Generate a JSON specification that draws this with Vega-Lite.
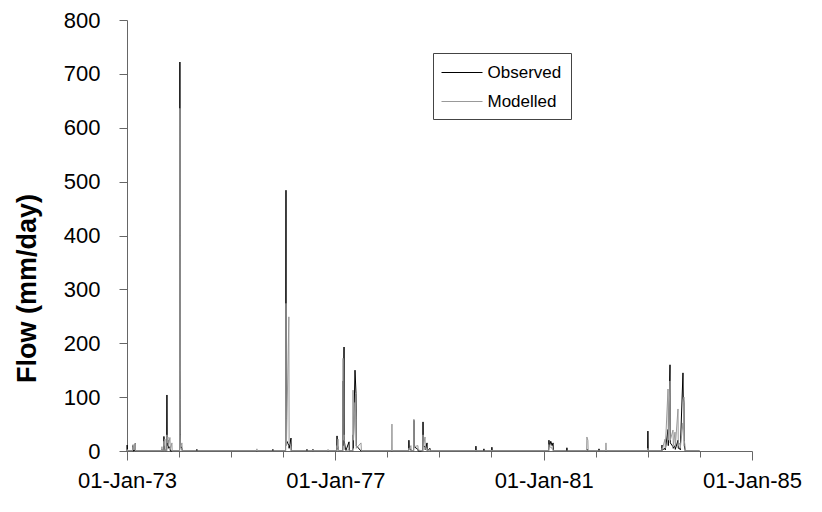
{
 "$schema": "https://vega.github.io/schema/vega-lite/v6.json",
 "width": 625, "height": 431,
 "autosize": {"type": "none"},
 "padding": {"left": 127, "top": 20, "right": 70, "bottom": 61},
 "background": "white",
 "config": {"font": "Liberation Sans", "view": {"stroke": null}, "axis": {"grid": false, "domainColor": "#666", "tickColor": "#666", "labelColor": "black", "titleColor": "black"}},
 "data": {"format": {"parse": {"d": "date:'%Y-%m-%d'"}}, "values": [
  {"d":"1973-01-01","o":0,"m":0},{"d":"1973-01-02","o":11,"m":3},{"d":"1973-01-04","o":0,"m":0},
  {"d":"1973-02-08","o":0,"m":0},{"d":"1973-02-10","o":10,"m":8},{"d":"1973-02-13","o":3,"m":12},{"d":"1973-02-16","o":0,"m":2},{"d":"1973-02-27","o":2,"m":6},{"d":"1973-02-28","o":14,"m":14},{"d":"1973-03-02","o":0,"m":0},
  {"d":"1973-09-01","o":0,"m":0},{"d":"1973-09-03","o":3,"m":8},{"d":"1973-09-05","o":0,"m":0},{"d":"1973-09-16","o":0,"m":0},{"d":"1973-09-17","o":27,"m":18},{"d":"1973-09-19","o":5,"m":10},{"d":"1973-09-24","o":3,"m":22},{"d":"1973-09-26","o":0,"m":0},
  {"d":"1973-10-06","o":0,"m":0},{"d":"1973-10-08","o":104,"m":30},{"d":"1973-10-10","o":10,"m":15},{"d":"1973-10-15","o":20,"m":26},{"d":"1973-10-18","o":5,"m":10},{"d":"1973-10-29","o":8,"m":25},{"d":"1973-11-01","o":0,"m":3},{"d":"1973-11-12","o":0,"m":15},{"d":"1973-11-14","o":0,"m":0},
  {"d":"1974-01-05","o":0,"m":0},{"d":"1974-01-07","o":722,"m":636},{"d":"1974-01-08","o":150,"m":400},{"d":"1974-01-09","o":95,"m":30},{"d":"1974-01-11","o":10,"m":5},{"d":"1974-01-21","o":5,"m":15},{"d":"1974-01-24","o":0,"m":0},
  {"d":"1974-05-04","o":0,"m":0},{"d":"1974-05-06","o":3,"m":0},{"d":"1974-05-08","o":0,"m":0},
  {"d":"1975-06-29","o":0,"m":0},{"d":"1975-07-01","o":0,"m":4},{"d":"1975-07-03","o":0,"m":0},
  {"d":"1975-10-19","o":0,"m":0},{"d":"1975-10-21","o":3,"m":0},{"d":"1975-10-23","o":0,"m":0},
  {"d":"1976-01-18","o":0,"m":0},{"d":"1976-01-21","o":484,"m":274},{"d":"1976-01-22","o":156,"m":60},{"d":"1976-01-24","o":20,"m":10},{"d":"1976-02-10","o":10,"m":249},{"d":"1976-02-12","o":5,"m":15},{"d":"1976-02-25","o":24,"m":8},{"d":"1976-02-27","o":0,"m":0},
  {"d":"1976-06-14","o":0,"m":0},{"d":"1976-06-16","o":3,"m":0},{"d":"1976-06-18","o":0,"m":0},
  {"d":"1976-07-26","o":0,"m":0},{"d":"1976-07-28","o":3,"m":2},{"d":"1976-07-30","o":0,"m":0},
  {"d":"1976-11-09","o":0,"m":0},{"d":"1976-11-11","o":0,"m":3},{"d":"1976-11-13","o":0,"m":0},
  {"d":"1977-01-11","o":0,"m":0},{"d":"1977-01-13","o":28,"m":10},{"d":"1977-01-15","o":5,"m":5},{"d":"1977-01-20","o":8,"m":22},{"d":"1977-01-23","o":0,"m":0},
  {"d":"1977-02-22","o":0,"m":0},{"d":"1977-02-24","o":130,"m":172},{"d":"1977-02-25","o":10,"m":20},{"d":"1977-03-03","o":193,"m":30},{"d":"1977-03-04","o":20,"m":5},{"d":"1977-03-15","o":0,"m":0},{"d":"1977-04-07","o":17,"m":3},{"d":"1977-04-09","o":0,"m":0},
  {"d":"1977-05-03","o":0,"m":0},{"d":"1977-05-05","o":30,"m":113},{"d":"1977-05-07","o":5,"m":20},{"d":"1977-05-19","o":150,"m":90},{"d":"1977-05-26","o":107,"m":60},{"d":"1977-05-28","o":10,"m":5},{"d":"1977-06-30","o":0,"m":15},{"d":"1977-07-03","o":0,"m":0},
  {"d":"1978-01-31","o":0,"m":0},{"d":"1978-02-02","o":0,"m":50},{"d":"1978-02-04","o":0,"m":0},
  {"d":"1978-05-30","o":0,"m":0},{"d":"1978-06-01","o":20,"m":5},{"d":"1978-06-03","o":5,"m":2},{"d":"1978-06-15","o":3,"m":10},{"d":"1978-06-17","o":0,"m":0},
  {"d":"1978-07-04","o":0,"m":0},{"d":"1978-07-06","o":57,"m":59},{"d":"1978-07-08","o":8,"m":8},{"d":"1978-08-03","o":3,"m":10},{"d":"1978-08-05","o":0,"m":2},
  {"d":"1978-09-06","o":0,"m":0},{"d":"1978-09-08","o":54,"m":30},{"d":"1978-09-10","o":10,"m":8},{"d":"1978-09-22","o":8,"m":26},{"d":"1978-09-24","o":2,"m":3},{"d":"1978-10-06","o":15,"m":5},{"d":"1978-10-08","o":0,"m":0},{"d":"1978-10-27","o":5,"m":3},{"d":"1978-10-29","o":0,"m":0},
  {"d":"1979-09-12","o":0,"m":0},{"d":"1979-09-14","o":9,"m":2},{"d":"1979-09-16","o":0,"m":0},
  {"d":"1979-11-07","o":0,"m":0},{"d":"1979-11-09","o":4,"m":0},{"d":"1979-11-11","o":0,"m":0},
  {"d":"1980-01-02","o":0,"m":0},{"d":"1980-01-04","o":7,"m":2},{"d":"1980-01-06","o":0,"m":0},
  {"d":"1981-02-05","o":0,"m":0},{"d":"1981-02-07","o":20,"m":12},{"d":"1981-02-10","o":8,"m":5},{"d":"1981-02-20","o":18,"m":8},{"d":"1981-03-01","o":10,"m":4},{"d":"1981-03-08","o":15,"m":3},{"d":"1981-03-10","o":0,"m":0},
  {"d":"1981-06-11","o":0,"m":0},{"d":"1981-06-13","o":6,"m":0},{"d":"1981-06-15","o":0,"m":0},
  {"d":"1981-10-29","o":0,"m":0},{"d":"1981-10-31","o":3,"m":26},{"d":"1981-11-07","o":2,"m":20},{"d":"1981-11-09","o":0,"m":0},
  {"d":"1982-01-22","o":0,"m":0},{"d":"1982-01-24","o":4,"m":1},{"d":"1982-01-26","o":0,"m":0},
  {"d":"1982-03-12","o":0,"m":0},{"d":"1982-03-14","o":0,"m":15},{"d":"1982-03-16","o":0,"m":0},
  {"d":"1982-12-31","o":0,"m":0},{"d":"1983-01-02","o":37,"m":5},{"d":"1983-01-04","o":0,"m":0},
  {"d":"1983-04-09","o":0,"m":0},{"d":"1983-04-11","o":11,"m":5},{"d":"1983-04-13","o":2,"m":3},{"d":"1983-05-02","o":5,"m":22},{"d":"1983-05-04","o":2,"m":5},{"d":"1983-05-23","o":40,"m":115},{"d":"1983-05-25","o":10,"m":20},{"d":"1983-06-06","o":160,"m":130},{"d":"1983-06-08","o":15,"m":20},{"d":"1983-06-27","o":8,"m":39},{"d":"1983-06-29","o":5,"m":10},{"d":"1983-07-11","o":10,"m":35},{"d":"1983-07-13","o":3,"m":8},{"d":"1983-08-01","o":20,"m":78},{"d":"1983-08-03","o":5,"m":10},{"d":"1983-08-15","o":5,"m":15},{"d":"1983-08-17","o":2,"m":5},{"d":"1983-09-05","o":145,"m":52},{"d":"1983-09-07","o":98,"m":40},{"d":"1983-09-12","o":90,"m":100},{"d":"1983-09-14","o":10,"m":20},{"d":"1983-09-19","o":3,"m":10},{"d":"1983-09-21","o":0,"m":0},
  {"d":"1983-12-31","o":0,"m":0}
 ]},
 "encoding": {
  "x": {"field": "d", "type": "temporal",
   "scale": {"domain": [{"year":1973,"month":1,"date":1},{"year":1985,"month":1,"date":1}]},
   "axis": {"title": null,
    "values": [{"year":1973,"month":1,"date":1},{"year":1974,"month":1,"date":1},{"year":1975,"month":1,"date":1},{"year":1976,"month":1,"date":1},{"year":1977,"month":1,"date":1},{"year":1978,"month":1,"date":1},{"year":1979,"month":1,"date":1},{"year":1980,"month":1,"date":1},{"year":1981,"month":1,"date":1},{"year":1982,"month":1,"date":1},{"year":1983,"month":1,"date":1},{"year":1984,"month":1,"date":1},{"year":1985,"month":1,"date":1}],
    "labelExpr": "year(datum.value) % 4 == 1 ? timeFormat(datum.value, '%d-%b-%y') : ''",
    "tickSize": {"condition": {"test": "year(datum.value) % 4 == 1", "value": 9}, "value": 6},
    "labelFontSize": 22, "labelPadding": 10, "labelOverlap": false, "labelFlush": false}}
 },
 "layer": [
  {"mark": {"type": "line", "strokeWidth": 1},
   "encoding": {
    "y": {"field": "o", "type": "quantitative",
     "scale": {"domain": [0, 800], "nice": false},
     "axis": {"title": "Flow (mm/day)", "values": [0,100,200,300,400,500,600,700,800], "tickSize": 8, "labelFontSize": 22, "labelPadding": 19, "titleFontSize": 27, "titleFontWeight": "bold", "titleX": -100, "titleY": 268, "titleAngle": -90, "titleAlign": "center", "titleBaseline": "middle"}},
    "color": {"datum": "Observed", "type": "nominal",
     "scale": {"domain": ["Observed", "Modelled"], "range": ["#000000", "#999999"]},
     "legend": {"title": null, "orient": "none", "legendX": 306, "legendY": 33,
      "strokeColor": "#444", "fillColor": "white", "padding": 9,
      "symbolType": "M-2.05,0H2.05", "symbolSize": 400, "symbolStrokeWidth": 1,
      "symbolOffset": 9.5, "labelOffset": 15, "rowPadding": 10,
      "labelFontSize": 17, "labelFont": "Liberation Sans", "labelColor": "black"}}
   }},
  {"mark": {"type": "line", "strokeWidth": 1},
   "encoding": {
    "y": {"field": "m", "type": "quantitative"},
    "color": {"datum": "Modelled", "type": "nominal"}
   }}
 ]
}
